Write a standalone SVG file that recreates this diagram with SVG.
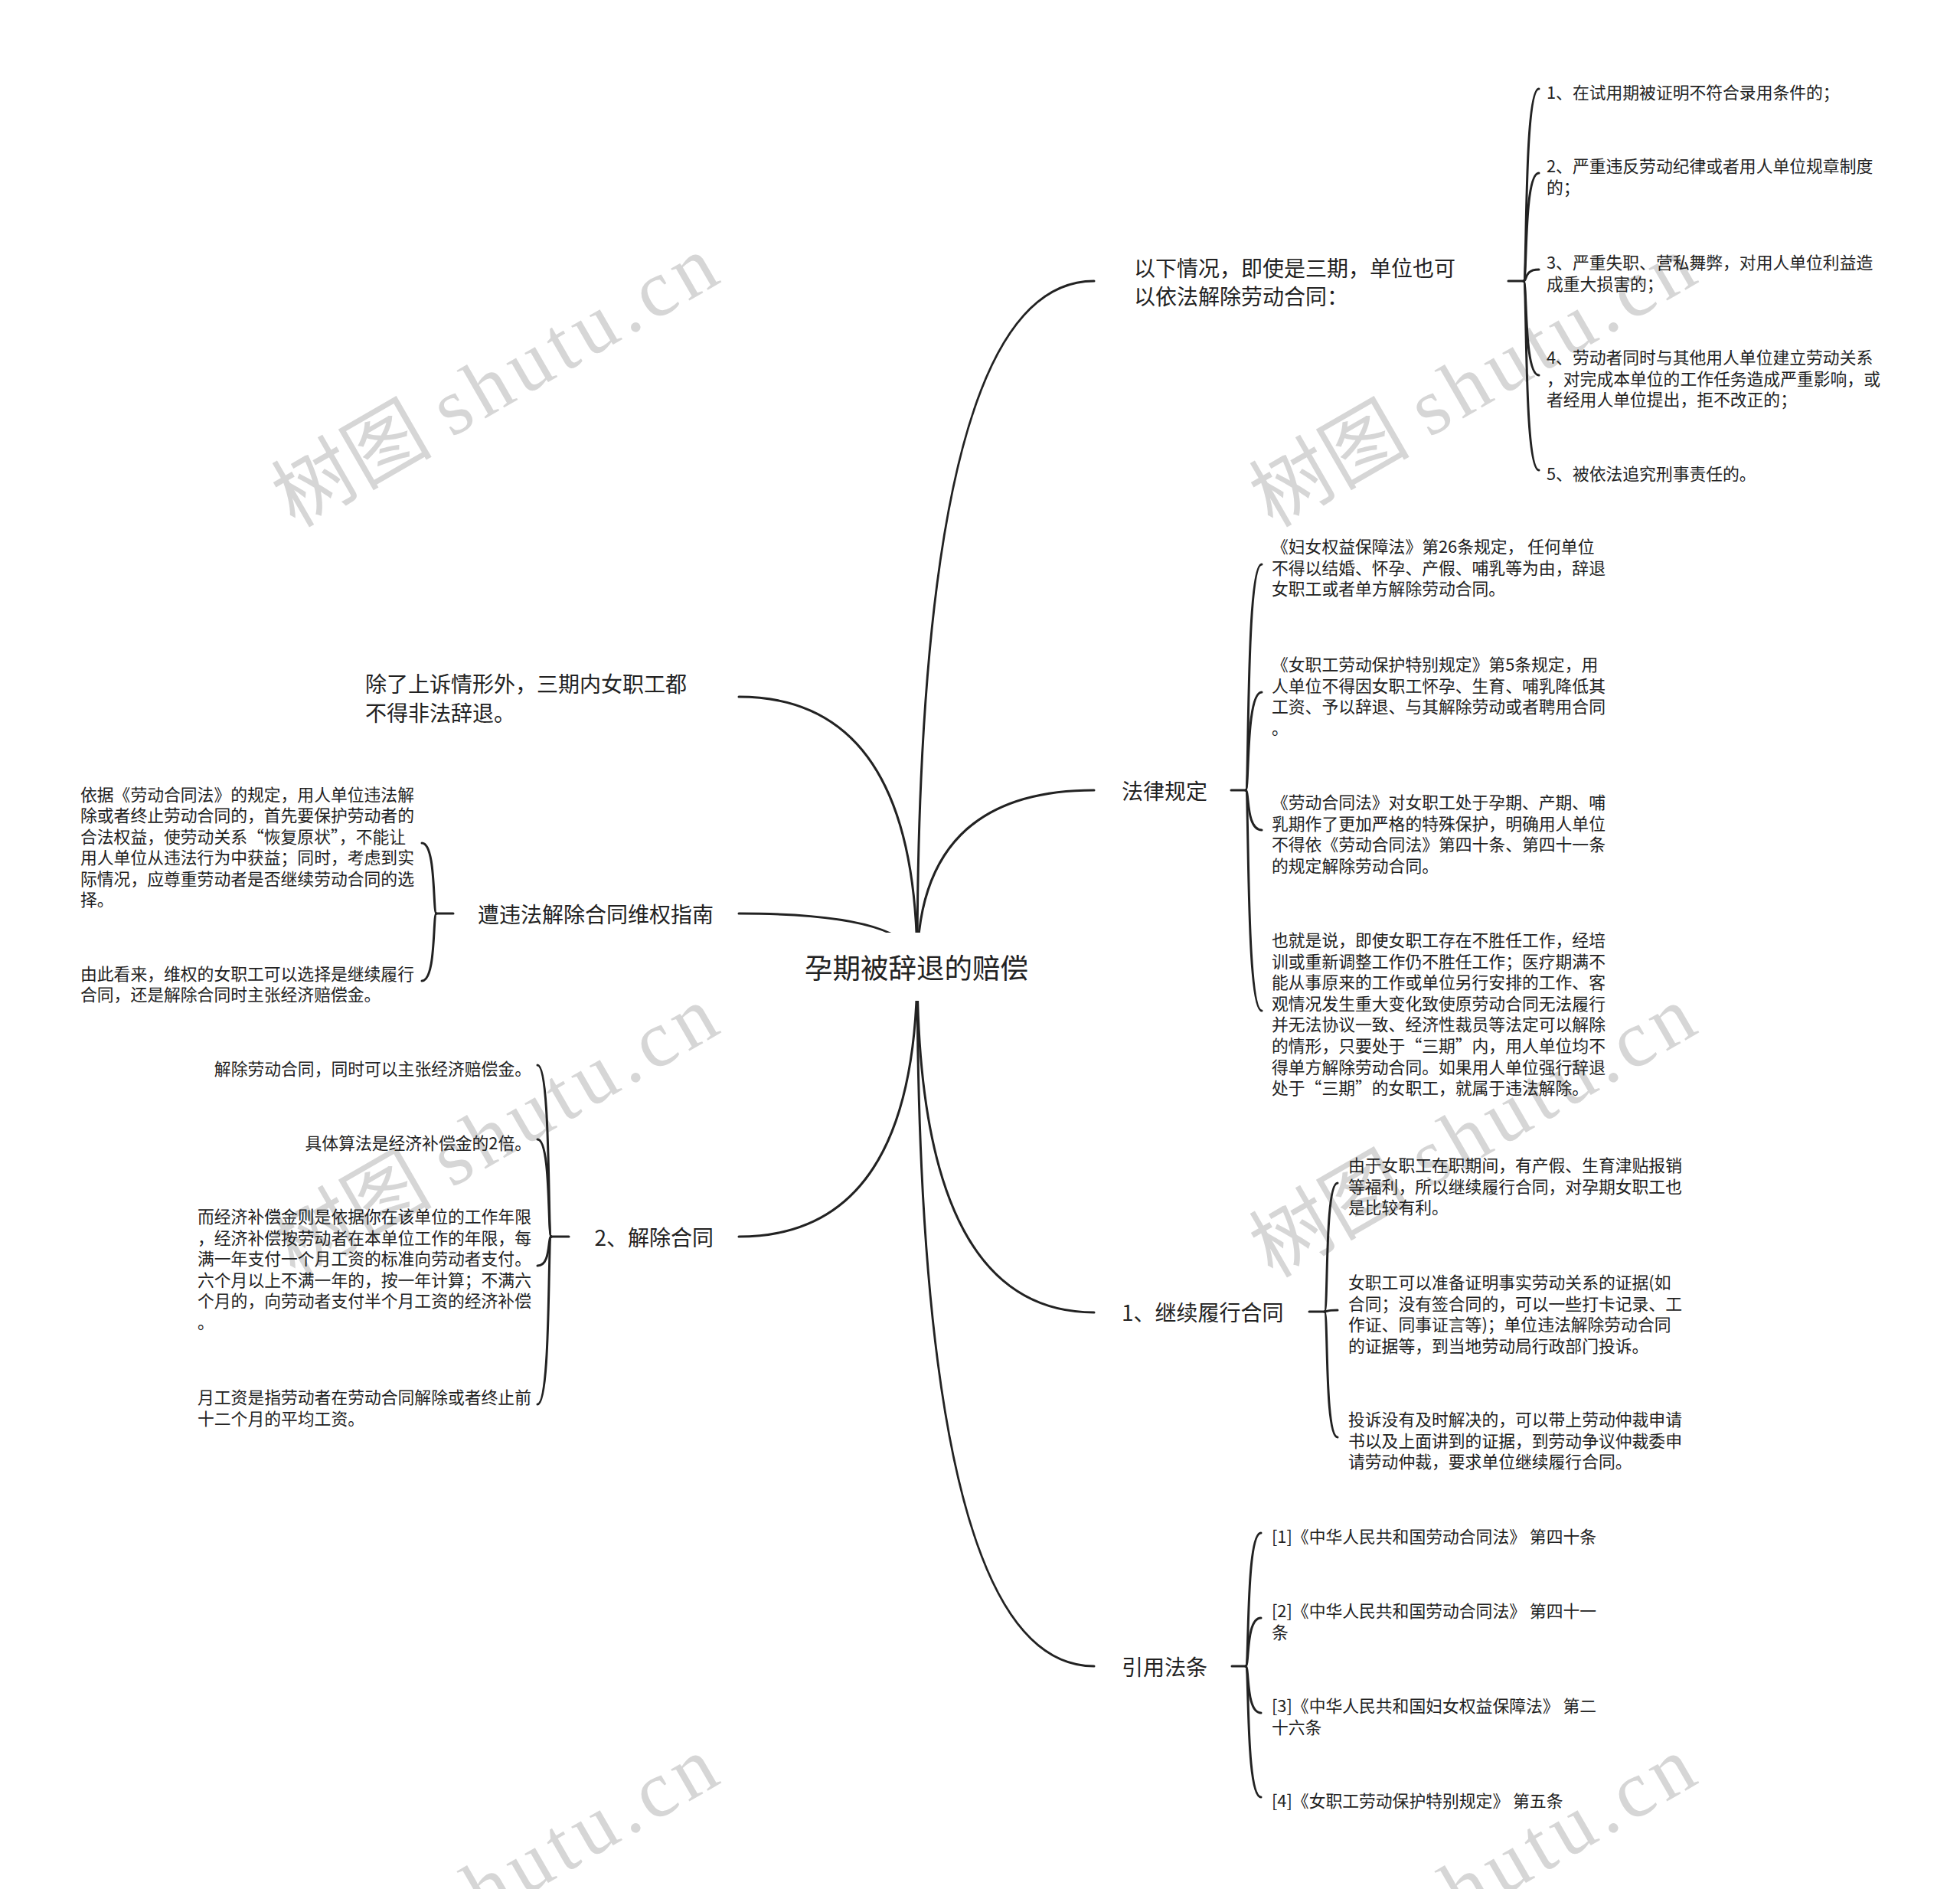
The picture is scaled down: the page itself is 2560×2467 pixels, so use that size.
<svg xmlns="http://www.w3.org/2000/svg" width="2560" height="2467" viewBox="0 0 2560 2467">
<style>
.t{font-family:'Noto Sans CJK SC','Noto Sans',sans-serif;fill:#222;dominant-baseline:central}
.leaf{font-size:21.8px}
.main{font-size:28px}
.root{font-size:36.5px}
.ln{fill:none;stroke:#222;stroke-width:3;stroke-linecap:round}
.wm{font-family:'Liberation Serif','Noto Sans CJK SC',serif;font-size:105px;fill:#d6d6d6}
</style>
<rect width="2560" height="2467" fill="#ffffff"/>
<g id="watermarks">
<text class="wm" transform="translate(385,690) rotate(-30)">树图 <tspan letter-spacing="8">shutu.cn</tspan></text>
<text class="wm" transform="translate(1662,690) rotate(-30)">树图 <tspan letter-spacing="8">shutu.cn</tspan></text>
<text class="wm" transform="translate(385,1670) rotate(-30)">树图 <tspan letter-spacing="8">shutu.cn</tspan></text>
<text class="wm" transform="translate(1662,1670) rotate(-30)">树图 <tspan letter-spacing="8">shutu.cn</tspan></text>
<text class="wm" transform="translate(385,2650) rotate(-30)">树图 <tspan letter-spacing="8">shutu.cn</tspan></text>
<text class="wm" transform="translate(1662,2650) rotate(-30)">树图 <tspan letter-spacing="8">shutu.cn</tspan></text>
</g>
<g id="connectors">
<path class="ln" d="M1198,1262 Q1198,367 1429,367"/>
<path class="ln" d="M1198,1262 Q1198,1032 1429,1032"/>
<path class="ln" d="M1198,1262 Q1198,1714 1429,1714"/>
<path class="ln" d="M1198,1262 Q1198,2176 1429,2176"/>
<path class="ln" d="M1198,1262 Q1198,910 965,910"/>
<path class="ln" d="M1198,1262 Q1198,1193 965,1193"/>
<path class="ln" d="M1198,1262 Q1198,1615 965,1615"/>
<path class="ln" d="M1970,367 H1990"/>
<path class="ln" d="M1990,367 C1995,367 1990,116 2010,116"/>
<path class="ln" d="M1990,367 C1995,367 1990,226 2010,226"/>
<path class="ln" d="M1990,367 C1995,367 1990,352 2010,352"/>
<path class="ln" d="M1990,367 C1995,367 1990,490 2010,490"/>
<path class="ln" d="M1990,367 C1995,367 1990,614 2010,614"/>
<path class="ln" d="M1608,1032 H1627"/>
<path class="ln" d="M1627,1032 C1632,1032 1627,737 1648,737"/>
<path class="ln" d="M1627,1032 C1632,1032 1627,904 1648,904"/>
<path class="ln" d="M1627,1032 C1632,1032 1627,1084 1648,1084"/>
<path class="ln" d="M1627,1032 C1632,1032 1627,1320 1648,1320"/>
<path class="ln" d="M1710,1713 H1730"/>
<path class="ln" d="M1730,1713 C1735,1713 1730,1545 1747,1545"/>
<path class="ln" d="M1730,1713 C1735,1713 1730,1711 1747,1711"/>
<path class="ln" d="M1730,1713 C1735,1713 1730,1877 1747,1877"/>
<path class="ln" d="M1609,2176 H1627"/>
<path class="ln" d="M1627,2176 C1632,2176 1627,2002 1647,2002"/>
<path class="ln" d="M1627,2176 C1632,2176 1627,2113 1647,2113"/>
<path class="ln" d="M1627,2176 C1632,2176 1627,2237 1647,2237"/>
<path class="ln" d="M1627,2176 C1632,2176 1627,2347 1647,2347"/>
<path class="ln" d="M592,1193 H570"/>
<path class="ln" d="M570,1193 C565,1193 570,1101 551,1101"/>
<path class="ln" d="M570,1193 C565,1193 570,1281 551,1281"/>
<path class="ln" d="M743,1615 H720"/>
<path class="ln" d="M720,1615 C715,1615 720,1391 702,1391"/>
<path class="ln" d="M720,1615 C715,1615 720,1488 702,1488"/>
<path class="ln" d="M720,1615 C715,1615 720,1653 702,1653"/>
<path class="ln" d="M720,1615 C715,1615 720,1834 702,1834"/>
</g>
<g id="root">
<rect x="1015" y="1218" width="365" height="89" fill="#ffffff"/>
<text class="t root" x="1197" y="1262" text-anchor="middle">孕期被辞退的赔偿</text>
</g>
<g id="n-yixia">
<text class="t main" x="1481"><tspan x="1481" y="349">以下情况，即使是三期，单位也可</tspan><tspan x="1481" y="386">以依法解除劳动合同：</tspan></text>
</g>
<g id="n-yixia-1"><text class="t leaf" x="2020" y="119">1、在试用期被证明不符合录用条件的；</text></g>
<g id="n-yixia-2"><text class="t leaf"><tspan x="2020" y="215">2、严重违反劳动纪律或者用人单位规章制度</tspan><tspan x="2020" y="242.6">的；</tspan></text></g>
<g id="n-yixia-3"><text class="t leaf"><tspan x="2020" y="341">3、严重失职、营私舞弊，对用人单位利益造</tspan><tspan x="2020" y="368.6">成重大损害的；</tspan></text></g>
<g id="n-yixia-4"><text class="t leaf"><tspan x="2020" y="465">4、劳动者同时与其他用人单位建立劳动关系</tspan><tspan x="2020" y="492.6">，对完成本单位的工作任务造成严重影响，或</tspan><tspan x="2020" y="520.2">者经用人单位提出，拒不改正的；</tspan></text></g>
<g id="n-yixia-5"><text class="t leaf" x="2020" y="617">5、被依法追究刑事责任的。</text></g>
<g id="n-falv"><text class="t main" x="1465" y="1032">法律规定</text></g>
<g id="n-falv-1"><text class="t leaf"><tspan x="1661" y="712">《妇女权益保障法》第26条规定， 任何单位</tspan><tspan x="1661" y="739.6">不得以结婚、怀孕、产假、哺乳等为由，辞退</tspan><tspan x="1661" y="767.2">女职工或者单方解除劳动合同。</tspan></text></g>
<g id="n-falv-2"><text class="t leaf"><tspan x="1661" y="866">《女职工劳动保护特别规定》第5条规定，用</tspan><tspan x="1661" y="893.6">人单位不得因女职工怀孕、生育、哺乳降低其</tspan><tspan x="1661" y="921.2">工资、予以辞退、与其解除劳动或者聘用合同</tspan><tspan x="1661" y="948.8">。</tspan></text></g>
<g id="n-falv-3"><text class="t leaf"><tspan x="1661" y="1046">《劳动合同法》对女职工处于孕期、产期、哺</tspan><tspan x="1661" y="1073.6">乳期作了更加严格的特殊保护，明确用人单位</tspan><tspan x="1661" y="1101.2">不得依《劳动合同法》第四十条、第四十一条</tspan><tspan x="1661" y="1128.8">的规定解除劳动合同。</tspan></text></g>
<g id="n-falv-4"><text class="t leaf"><tspan x="1661" y="1226">也就是说，即使女职工存在不胜任工作，经培</tspan><tspan x="1661" y="1253.6">训或重新调整工作仍不胜任工作；医疗期满不</tspan><tspan x="1661" y="1281.2">能从事原来的工作或单位另行安排的工作、客</tspan><tspan x="1661" y="1308.8">观情况发生重大变化致使原劳动合同无法履行</tspan><tspan x="1661" y="1336.4">并无法协议一致、经济性裁员等法定可以解除</tspan><tspan x="1661" y="1364">的情形，只要处于“三期”内，用人单位均不</tspan><tspan x="1661" y="1391.6">得单方解除劳动合同。如果用人单位强行辞退</tspan><tspan x="1661" y="1419.2">处于“三期”的女职工，就属于违法解除。</tspan></text></g>
<g id="n-jixu"><text class="t main" x="1465" y="1713">1、继续履行合同</text></g>
<g id="n-jixu-1"><text class="t leaf"><tspan x="1761" y="1520">由于女职工在职期间，有产假、生育津贴报销</tspan><tspan x="1761" y="1547.6">等福利，所以继续履行合同，对孕期女职工也</tspan><tspan x="1761" y="1575.2">是比较有利。</tspan></text></g>
<g id="n-jixu-2"><text class="t leaf"><tspan x="1761" y="1673">女职工可以准备证明事实劳动关系的证据(如</tspan><tspan x="1761" y="1700.6">合同；没有签合同的，可以一些打卡记录、工</tspan><tspan x="1761" y="1728.2">作证、同事证言等)；单位违法解除劳动合同</tspan><tspan x="1761" y="1755.8">的证据等，到当地劳动局行政部门投诉。</tspan></text></g>
<g id="n-jixu-3"><text class="t leaf"><tspan x="1761" y="1852">投诉没有及时解决的，可以带上劳动仲裁申请</tspan><tspan x="1761" y="1879.6">书以及上面讲到的证据，到劳动争议仲裁委申</tspan><tspan x="1761" y="1907.2">请劳动仲裁，要求单位继续履行合同。</tspan></text></g>
<g id="n-yinyong"><text class="t main" x="1465" y="2176">引用法条</text></g>
<g id="n-yinyong-1"><text class="t leaf" x="1661" y="2005">[1]《中华人民共和国劳动合同法》 第四十条</text></g>
<g id="n-yinyong-2"><text class="t leaf"><tspan x="1661" y="2102">[2]《中华人民共和国劳动合同法》 第四十一</tspan><tspan x="1661" y="2129.6">条</tspan></text></g>
<g id="n-yinyong-3"><text class="t leaf"><tspan x="1661" y="2226">[3]《中华人民共和国妇女权益保障法》 第二</tspan><tspan x="1661" y="2253.6">十六条</tspan></text></g>
<g id="n-yinyong-4"><text class="t leaf" x="1661" y="2350">[4]《女职工劳动保护特别规定》 第五条</text></g>
<g id="n-chule"><text class="t main"><tspan x="477" y="892">除了上诉情形外，三期内女职工都</tspan><tspan x="477" y="930">不得非法辞退。</tspan></text></g>
<g id="n-weiquan"><text class="t main" x="932" y="1193" text-anchor="end">遭违法解除合同维权指南</text></g>
<g id="n-weiquan-1"><text class="t leaf"><tspan x="105" y="1036">依据《劳动合同法》的规定，用人单位违法解</tspan><tspan x="105" y="1063.4">除或者终止劳动合同的，首先要保护劳动者的</tspan><tspan x="105" y="1090.8">合法权益，使劳动关系“恢复原状”，不能让</tspan><tspan x="105" y="1118.2">用人单位从违法行为中获益；同时，考虑到实</tspan><tspan x="105" y="1145.6">际情况，应尊重劳动者是否继续劳动合同的选</tspan><tspan x="105" y="1173">择。</tspan></text></g>
<g id="n-weiquan-2"><text class="t leaf"><tspan x="105" y="1270">由此看来，维权的女职工可以选择是继续履行</tspan><tspan x="105" y="1297.4">合同，还是解除合同时主张经济赔偿金。</tspan></text></g>
<g id="n-jiechu"><text class="t main" x="932" y="1615" text-anchor="end">2、解除合同</text></g>
<g id="n-jiechu-1"><text class="t leaf" x="694" y="1394" text-anchor="end">解除劳动合同，同时可以主张经济赔偿金。</text></g>
<g id="n-jiechu-2"><text class="t leaf" x="694" y="1491" text-anchor="end">具体算法是经济补偿金的2倍。</text></g>
<g id="n-jiechu-3"><text class="t leaf"><tspan x="258" y="1587">而经济补偿金则是依据你在该单位的工作年限</tspan><tspan x="258" y="1614.6">，经济补偿按劳动者在本单位工作的年限，每</tspan><tspan x="258" y="1642.2">满一年支付一个月工资的标准向劳动者支付。</tspan><tspan x="258" y="1669.8">六个月以上不满一年的，按一年计算；不满六</tspan><tspan x="258" y="1697.4">个月的，向劳动者支付半个月工资的经济补偿</tspan><tspan x="258" y="1725">。</tspan></text></g>
<g id="n-jiechu-4"><text class="t leaf"><tspan x="258" y="1823">月工资是指劳动者在劳动合同解除或者终止前</tspan><tspan x="258" y="1850.6">十二个月的平均工资。</tspan></text></g>
</svg>
